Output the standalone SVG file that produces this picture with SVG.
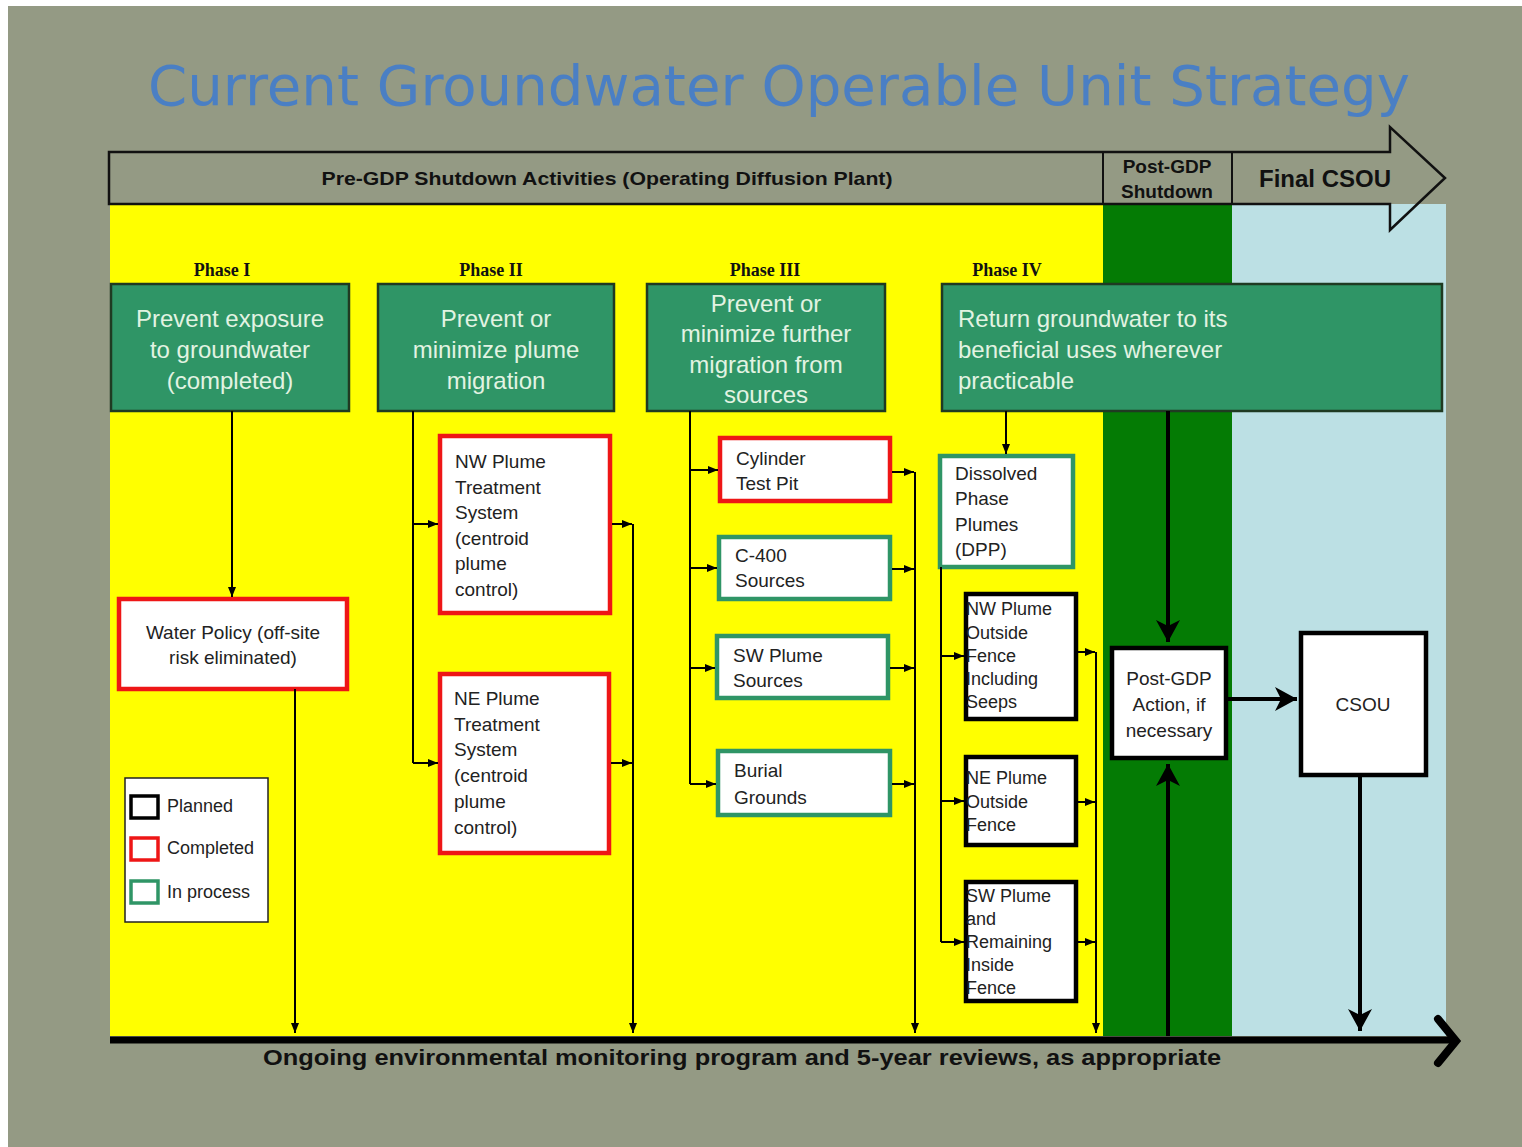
<svg xmlns="http://www.w3.org/2000/svg" width="1522" height="1147" viewBox="0 0 1522 1147">
<defs>
<style>
.bg{fill:#949a84}
.gbox{fill:#2f9566;stroke:#1f3a22;stroke-width:2.5}
.gtxt{font-family:"Liberation Sans",Arial,sans-serif;font-size:24px;fill:#e2f3e2}
.wbox{fill:#ffffff}
.red{stroke:#ee1616;stroke-width:4.5}
.teal{stroke:#2f9566;stroke-width:4.5}
.blk{stroke:#000;stroke-width:4.5}
.t{font-family:"Liberation Sans",Arial,sans-serif;font-size:19px;fill:#222}
.ts{font-family:"Liberation Sans",Arial,sans-serif;font-size:18px;fill:#222}
.phase{font-family:"Liberation Serif","Times New Roman",serif;font-size:18px;font-weight:bold;fill:#111}
.hdr{font-family:"Liberation Sans",Arial,sans-serif;font-weight:bold;fill:#111}
.c{fill:none;stroke:#000;stroke-width:2}
.ct{fill:none;stroke:#000;stroke-width:4}
</style>
<marker id="a" markerUnits="userSpaceOnUse" viewBox="0 0 10 8" markerWidth="10" markerHeight="8" refX="10" refY="4" orient="auto">
<path d="M0,0 L10,4 L0,8 z" fill="#000"/>
</marker>
<marker id="big" markerUnits="userSpaceOnUse" viewBox="0 -13 24 26" markerWidth="24" markerHeight="26" refX="22" refY="0" orient="auto">
<path d="M0,-12 L22,0 L0,12 L6,0 z" fill="#000"/>
</marker>
</defs>

<rect x="0" y="0" width="1522" height="1147" fill="#ffffff"/>
<rect x="8" y="6" width="1514" height="1141" class="bg"/>

<g id="title">
<text x="148" y="105" font-family="DejaVu Sans,sans-serif" font-size="56" fill="#4a7fc4" textLength="1262" lengthAdjust="spacingAndGlyphs">Current Groundwater Operable Unit Strategy</text>
</g>

<g id="bands">
<rect x="110" y="204" width="993" height="832" fill="#ffff00"/>
<rect x="1103" y="204" width="129" height="832" fill="#047b04"/>
</g>

<g id="header">
<path d="M109,152 L1390,152 L1390,127 L1445,178 L1390,230 L1390,204 L109,204 Z" fill="#949a84"/>
<rect x="1232" y="204" width="214" height="832" fill="#bce0e4"/>
<path d="M109,152 L1390,152 L1390,127 L1445,178 L1390,230 L1390,204 L109,204 Z" fill="none" stroke="#111" stroke-width="2.5"/>
<line x1="1103" y1="152" x2="1103" y2="204" stroke="#111" stroke-width="2"/>
<line x1="1232" y1="152" x2="1232" y2="204" stroke="#111" stroke-width="2"/>
<text class="hdr" x="607" y="185" font-size="19" text-anchor="middle" textLength="571" lengthAdjust="spacingAndGlyphs">Pre-GDP Shutdown Activities (Operating Diffusion Plant)</text>
<text class="hdr" x="1167" y="173" font-size="19" text-anchor="middle">Post-GDP</text>
<text class="hdr" x="1167" y="198" font-size="19" text-anchor="middle">Shutdown</text>
<text class="hdr" x="1325" y="187" font-size="24" text-anchor="middle">Final CSOU</text>
</g>

<g id="phase-labels">
<text class="phase" x="222" y="276" text-anchor="middle">Phase I</text>
<text class="phase" x="491" y="276" text-anchor="middle">Phase II</text>
<text class="phase" x="765" y="276" text-anchor="middle">Phase III</text>
<text class="phase" x="1007" y="276" text-anchor="middle">Phase IV</text>
</g>

<g id="phase1">
<rect class="gbox" x="111" y="284" width="238" height="127"/>
<text class="gtxt" x="230" y="327" text-anchor="middle">Prevent exposure</text>
<text class="gtxt" x="230" y="358" text-anchor="middle">to groundwater</text>
<text class="gtxt" x="230" y="389" text-anchor="middle">(completed)</text>
</g>
<g id="phase2">
<rect class="gbox" x="378" y="284" width="236" height="127"/>
<text class="gtxt" x="496" y="327" text-anchor="middle">Prevent or</text>
<text class="gtxt" x="496" y="358" text-anchor="middle">minimize plume</text>
<text class="gtxt" x="496" y="389" text-anchor="middle">migration</text>
</g>
<g id="phase3">
<rect class="gbox" x="647" y="284" width="238" height="127"/>
<text class="gtxt" x="766" y="312" text-anchor="middle">Prevent or</text>
<text class="gtxt" x="766" y="342" text-anchor="middle">minimize further</text>
<text class="gtxt" x="766" y="373" text-anchor="middle">migration from</text>
<text class="gtxt" x="766" y="403" text-anchor="middle">sources</text>
</g>
<g id="phase4">
<rect class="gbox" x="942" y="284" width="500" height="127"/>
<text class="gtxt" x="958" y="327">Return groundwater to its</text>
<text class="gtxt" x="958" y="358">beneficial uses wherever</text>
<text class="gtxt" x="958" y="389">practicable</text>
</g>

<g id="water-policy">
<rect class="wbox red" x="119" y="599" width="228" height="90"/>
<text class="t" x="233" y="639" text-anchor="middle">Water Policy (off-site</text>
<text class="t" x="233" y="664" text-anchor="middle">risk eliminated)</text>
</g>

<g id="legend">
<rect x="125" y="778" width="143" height="144" fill="#fff" stroke="#222" stroke-width="1.5"/>
<rect x="131" y="796" width="27" height="22" fill="#fff" stroke="#000" stroke-width="3.5"/>
<rect x="131" y="838" width="27" height="22" fill="#fff" stroke="#ee1616" stroke-width="3.5"/>
<rect x="131" y="881" width="27" height="22" fill="#fff" stroke="#2f9566" stroke-width="3.5"/>
<text class="ts" x="167" y="812">Planned</text>
<text class="ts" x="167" y="854">Completed</text>
<text class="ts" x="167" y="898">In process</text>
</g>

<g id="nw-treatment">
<rect class="wbox red" x="440" y="436" width="170" height="177"/>
<text class="t" x="455" y="468">NW Plume</text>
<text class="t" x="455" y="494">Treatment</text>
<text class="t" x="455" y="519">System</text>
<text class="t" x="455" y="545">(centroid</text>
<text class="t" x="455" y="570">plume</text>
<text class="t" x="455" y="596">control)</text>
</g>
<g id="ne-treatment">
<rect class="wbox red" x="440" y="674" width="169" height="179"/>
<text class="t" x="454" y="705">NE Plume</text>
<text class="t" x="454" y="731">Treatment</text>
<text class="t" x="454" y="756">System</text>
<text class="t" x="454" y="782">(centroid</text>
<text class="t" x="454" y="808">plume</text>
<text class="t" x="454" y="834">control)</text>
</g>

<g id="cylinder">
<rect class="wbox red" x="720" y="438" width="170" height="63"/>
<text class="t" x="736" y="465">Cylinder</text>
<text class="t" x="736" y="490">Test Pit</text>
</g>
<g id="c400">
<rect class="wbox teal" x="719" y="537" width="171" height="62"/>
<text class="t" x="735" y="562">C-400</text>
<text class="t" x="735" y="587">Sources</text>
</g>
<g id="sw-sources">
<rect class="wbox teal" x="717" y="636" width="171" height="62"/>
<text class="t" x="733" y="662">SW Plume</text>
<text class="t" x="733" y="687">Sources</text>
</g>
<g id="burial">
<rect class="wbox teal" x="718" y="751" width="172" height="64"/>
<text class="t" x="734" y="777">Burial</text>
<text class="t" x="734" y="804">Grounds</text>
</g>

<g id="dpp">
<rect class="wbox teal" x="940" y="456" width="133" height="111"/>
<text class="t" x="955" y="480">Dissolved</text>
<text class="t" x="955" y="505">Phase</text>
<text class="t" x="955" y="531">Plumes</text>
<text class="t" x="955" y="556">(DPP)</text>
</g>
<g id="nw-outside">
<rect class="wbox blk" x="966" y="594" width="110" height="125"/>
<text class="ts" x="966" y="615">NW Plume</text>
<text class="ts" x="966" y="639">Outside</text>
<text class="ts" x="966" y="662">Fence</text>
<text class="ts" x="966" y="685">Including</text>
<text class="ts" x="966" y="708">Seeps</text>
</g>
<g id="ne-outside">
<rect class="wbox blk" x="966" y="757" width="110" height="88"/>
<text class="ts" x="966" y="784">NE Plume</text>
<text class="ts" x="966" y="808">Outside</text>
<text class="ts" x="966" y="831">Fence</text>
</g>
<g id="sw-inside">
<rect class="wbox blk" x="966" y="882" width="110" height="119"/>
<text class="ts" x="966" y="902">SW Plume</text>
<text class="ts" x="966" y="925">and</text>
<text class="ts" x="966" y="948">Remaining</text>
<text class="ts" x="966" y="971">Inside</text>
<text class="ts" x="966" y="994">Fence</text>
</g>

<g id="post-gdp">
<rect class="wbox blk" x="1112" y="648" width="114" height="110"/>
<text class="t" x="1169" y="685" text-anchor="middle">Post-GDP</text>
<text class="t" x="1169" y="711" text-anchor="middle">Action, if</text>
<text class="t" x="1169" y="737" text-anchor="middle">necessary</text>
</g>
<g id="csou">
<rect class="wbox blk" x="1301" y="633" width="125" height="142"/>
<text class="t" x="1363" y="711" text-anchor="middle">CSOU</text>
</g>

<g id="connectors">
<path class="c" d="M232,411 L232,597" marker-end="url(#a)"/>
<path class="c" d="M295,689 L295,1033" marker-end="url(#a)"/>
<path class="c" d="M413,411 L413,763"/>
<path class="c" d="M413,524 L438,524" marker-end="url(#a)"/>
<path class="c" d="M413,763 L438,763" marker-end="url(#a)"/>
<path class="c" d="M612,524 L632,524" marker-end="url(#a)"/>
<path class="c" d="M611,763 L632,763" marker-end="url(#a)"/>
<path class="c" d="M633,524 L633,1033" marker-end="url(#a)"/>
<path class="c" d="M690,411 L690,784"/>
<path class="c" d="M690,470 L718,470" marker-end="url(#a)"/>
<path class="c" d="M690,568 L717,568" marker-end="url(#a)"/>
<path class="c" d="M690,668 L715,668" marker-end="url(#a)"/>
<path class="c" d="M690,784 L716,784" marker-end="url(#a)"/>
<path class="c" d="M892,472 L914,472" marker-end="url(#a)"/>
<path class="c" d="M892,569 L914,569" marker-end="url(#a)"/>
<path class="c" d="M890,668 L914,668" marker-end="url(#a)"/>
<path class="c" d="M892,784 L914,784" marker-end="url(#a)"/>
<path class="c" d="M915,472 L915,1033" marker-end="url(#a)"/>
<path class="c" d="M1006,411 L1006,454" marker-end="url(#a)"/>
<path class="c" d="M941,567 L941,942"/>
<path class="c" d="M941,656 L964,656" marker-end="url(#a)"/>
<path class="c" d="M941,801 L964,801" marker-end="url(#a)"/>
<path class="c" d="M941,942 L964,942" marker-end="url(#a)"/>
<path class="c" d="M1078,652 L1095,652" marker-end="url(#a)"/>
<path class="c" d="M1078,802 L1095,802" marker-end="url(#a)"/>
<path class="c" d="M1078,942 L1095,942" marker-end="url(#a)"/>
<path class="c" d="M1096,652 L1096,1033" marker-end="url(#a)"/>
<path class="ct" d="M1168,411 L1168,642" marker-end="url(#big)"/>
<path class="ct" d="M1168,1036 L1168,764" marker-end="url(#big)"/>
<path class="ct" d="M1228,699 L1297,699" marker-end="url(#big)"/>
<path class="ct" d="M1360,777 L1360,1031" marker-end="url(#big)"/>
<path d="M110,1040 L1452,1040" stroke="#000" stroke-width="7" fill="none"/>
<path d="M1438,1019 L1456,1041 L1438,1063" stroke="#000" stroke-width="8" fill="none" stroke-linecap="round" stroke-linejoin="miter"/>
</g>

<g id="timeline-label">
<text class="hdr" x="742" y="1065" font-size="22" text-anchor="middle" textLength="958" lengthAdjust="spacingAndGlyphs">Ongoing environmental monitoring program and 5-year reviews, as appropriate</text>
</g>
</svg>
